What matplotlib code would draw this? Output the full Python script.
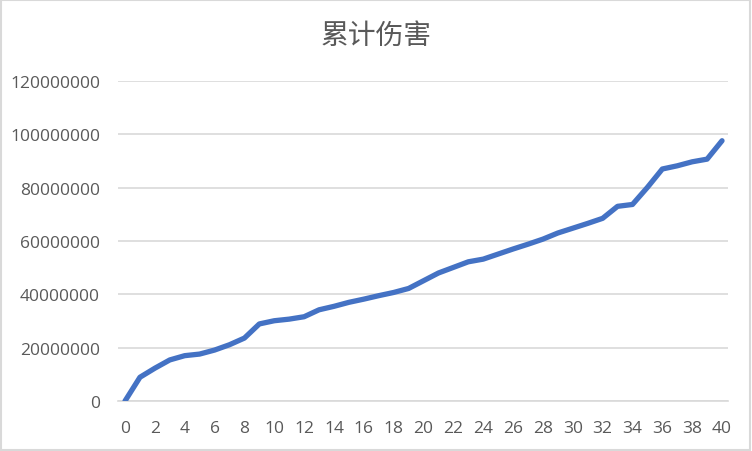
import matplotlib.pyplot as plt
from matplotlib.patches import Rectangle

# 数据
turns = list(range(41))
damage = [0, 8.9e6, 12.3e6, 15.4e6, 17.0e6, 17.6e6, 19.1e6, 21.1e6, 23.6e6, 28.9e6,
          30.1e6, 30.7e6, 31.6e6, 34.2e6, 35.5e6, 37.0e6, 38.2e6, 39.5e6, 40.7e6, 42.2e6,
          45.1e6, 48.0e6, 50.1e6, 52.2e6, 53.2e6, 55.1e6, 57.0e6, 58.8e6, 60.7e6, 63.0e6,
          64.8e6, 66.6e6, 68.5e6, 73.0e6, 73.7e6, 80.1e6, 87.0e6, 88.2e6, 89.7e6, 90.7e6,
          97.6e6]
yticks = [0, 20000000, 40000000, 60000000, 80000000, 100000000, 120000000]
xticks = list(range(0, 41, 2))

fig = plt.figure(figsize=(7.52, 4.52), dpi=100)
ax = fig.add_axes([118 / 752, 1 - 402 / 452, 610 / 752, 320 / 452])

ax.plot(turns, damage, color='#4472C4', linewidth=3.8, solid_capstyle='round',
        solid_joinstyle='round', zorder=3)

ax.set_xlim(-0.47, 40.4)
ax.set_ylim(0, 120000000)
ax.set_yticks(yticks)
ax.set_yticklabels([str(v) for v in yticks])
ax.set_xticks(xticks)
ax.set_xticklabels([str(v) for v in xticks])

ax.grid(axis='y', color='#D9D9D9', linewidth=1.2)
ax.set_axisbelow(True)
for s in ['top', 'right', 'left']:
    ax.spines[s].set_visible(False)
ax.spines['bottom'].set_color('#D9D9D9')
ax.spines['bottom'].set_linewidth(1.2)

ax.tick_params(axis='both', length=0, labelcolor='#595959', labelsize=12.5)
ax.tick_params(axis='y', pad=13)
ax.tick_params(axis='x', pad=14)
for lab in ax.get_xticklabels() + ax.get_yticklabels():
    lab.set_fontfamily(['Open Sans', 'DejaVu Sans'])

fig.text(0.5, 1 - 36 / 452, '累计伤害', ha='center', va='center', fontsize=20,
         fontweight='light', color='#595959',
         family=['Noto Sans CJK SC', 'DejaVu Sans'])

# 图表外框
fig.patches.append(Rectangle((0.001, 0.002), 0.997, 0.996, transform=fig.transFigure,
                             fill=False, edgecolor='#D9D9D9', linewidth=1.5))

fig.savefig('out.png', dpi=100)
